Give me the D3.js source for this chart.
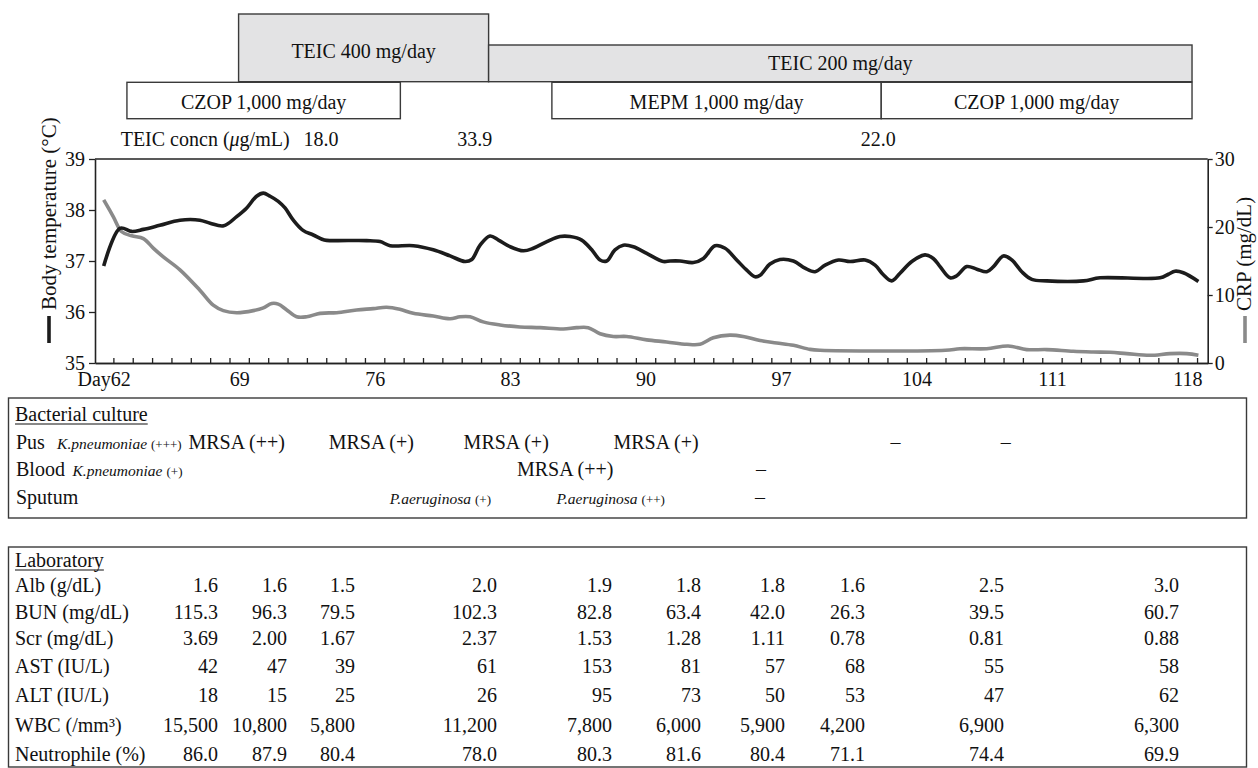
<!DOCTYPE html>
<html>
<head>
<meta charset="utf-8">
<script src="https://cdnjs.cloudflare.com/ajax/libs/d3/7.8.5/d3.min.js"></script>
<style>
  body { margin: 0; background: #fff; }
  svg text { font-family: "Liberation Serif", "Times New Roman", serif; fill: #111; }
</style>
</head>
<body>
<div id="chart"></div>
<script>
// ---- data ----
// body temperature (day, degC)
const tempDays = [62.0, 62.84, 63.45, 64.05, 64.9, 65.94, 66.97, 67.5, 68.2, 68.87, 69.39, 69.9, 70.25, 70.6, 71.02,
  71.37, 71.8, 72.3, 72.83, 73.4, 73.87, 75.59, 76.28, 76.8, 78.0, 79.03, 79.9, 80.67, 81.02, 81.45, 81.96, 82.4,
  83.0, 83.69, 84.2, 84.9, 85.58, 86.1, 86.7, 87.22, 87.65, 87.99, 88.42, 88.85, 89.37, 90.06, 90.92, 91.27, 91.78,
  92.47, 92.99, 93.59, 94.11, 94.71, 95.23, 95.66, 95.92, 96.43, 96.95, 97.64, 98.24, 98.76, 99.28, 99.97, 100.57,
  101.35, 101.86, 102.29, 102.72, 103.15, 103.76, 104.44, 104.87, 105.22, 105.74, 106.08, 106.6, 107.12, 107.63,
  107.98, 108.49, 108.93, 109.44, 109.96, 110.73, 112.63, 113.49, 116.59, 117.02, 117.36, 117.79, 118.57];
const tempValues = [36.9, 37.64, 37.58, 37.62, 37.7, 37.8, 37.8, 37.74, 37.69, 37.87, 38.04, 38.27, 38.33, 38.27, 38.17,
  38.04, 37.8, 37.6, 37.51, 37.41, 37.4, 37.4, 37.38, 37.3, 37.3, 37.22, 37.1, 36.99, 37.03, 37.31, 37.49, 37.41,
  37.28, 37.2, 37.25, 37.38, 37.48, 37.48, 37.41, 37.22, 37.02, 37.0, 37.22, 37.31, 37.28, 37.15, 36.99, 37.0, 37.0,
  36.97, 37.05, 37.3, 37.25, 37.02, 36.82, 36.69, 36.72, 36.94, 37.03, 37.0, 36.86, 36.79, 36.92, 37.02, 36.99,
  37.02, 36.92, 36.73, 36.61, 36.76, 36.99, 37.12, 37.05, 36.89, 36.67, 36.71, 36.89, 36.84, 36.79,
  36.89, 37.1, 37.02, 36.79, 36.64, 36.61, 36.61, 36.67, 36.67, 36.74, 36.8, 36.77, 36.6];

// CRP (day, mg/dL)
const crpDays = [62.0, 62.5, 62.93, 63.45, 64.05, 64.56, 65.08, 65.94, 66.97, 67.66, 68.18, 68.87, 69.73, 70.25, 70.68,
  71.02, 71.46, 71.97, 72.49, 73.18, 74.04, 75.07, 75.93, 76.62, 77.3, 78.0, 79.03, 79.9, 80.41, 80.93, 81.61, 82.48,
  83.51, 84.55, 85.75, 86.44, 87.04, 87.65, 88.33, 89.02, 90.06, 91.09, 92.13, 92.81, 93.5, 94.36, 95.05, 95.92,
  96.78, 97.64, 98.5, 99.02, 105.5, 106.25, 107.63, 108.74, 109.7, 110.73, 112.1, 113.14, 114.0, 114.87, 116.07,
  117.1, 117.97, 118.57];
const crpValues = [24.0, 21.5, 19.3, 18.7, 18.3, 16.9, 15.6, 13.7, 10.7, 8.5, 7.7, 7.4, 7.7, 8.1, 8.75,
  8.66, 7.8, 6.8, 6.8, 7.3, 7.4, 7.8, 8.0, 8.2, 7.9, 7.3, 6.9, 6.5, 6.8, 6.8, 6.05, 5.6,
  5.3, 5.2, 5.0, 5.2, 5.2, 4.3, 3.9, 3.9, 3.4, 3.1, 2.75, 2.75, 3.7, 4.1, 3.9, 3.3,
  2.95, 2.6, 2.0, 1.87, 1.87, 2.1, 2.1, 2.5, 1.97, 1.97, 1.72, 1.62, 1.57, 1.38, 1.13,
  1.38, 1.38, 1.13];

const dayTicks = [62, 69, 76, 83, 90, 97, 104, 111, 118];
const tempTicks = [35, 36, 37, 38, 39];
const crpTicks = [0, 10, 20, 30];

// drug regimens
const teicNames = ['TEIC 400 mg/day', 'TEIC 200 mg/day'];
const teicStart = [68.97, 81.89];
const teicEnd = [81.89, 118.24];
const abxNames = ['CZOP 1,000 mg/day', 'MEPM 1,000 mg/day', 'CZOP 1,000 mg/day'];
const abxStart = [63.2, 85.16, 102.18];
const abxEnd = [77.33, 102.18, 118.24];

// TEIC trough concentrations
const concDays = [73.23, 81.17, 102.02];
const concValues = ['18.0', '33.9', '22.0'];

// bacterial culture (day, organism, grade)
const cultureRows = ['Pus', 'Blood', 'Sputum'];
const pusDays = [62.81, 68.87, 75.83, 82.8, 90.54, 102.92, 108.61];
const pusOrganism = ['K.pneumoniae', 'MRSA', 'MRSA', 'MRSA', 'MRSA', '\u2013', '\u2013'];
const pusGrade = ['(+++)', '(++)', '(+)', '(+)', '(+)', '', ''];
const bloodDays = [63.23, 85.85, 95.96];
const bloodOrganism = ['K.pneumoniae', 'MRSA', '\u2013'];
const bloodGrade = ['(+)', '(++)', ''];
const sputumDays = [79.4, 88.2, 95.92];
const sputumOrganism = ['P.aeruginosa', 'P.aeruginosa', '\u2013'];
const sputumGrade = ['(+)', '(++)', ''];

// laboratory
const labNames = ['Alb (g/dL)', 'BUN (mg/dL)', 'Scr (mg/dL)', 'AST (IU/L)', 'ALT (IU/L)', 'WBC (/mm\u00b3)', 'Neutrophile (%)'];
const labDays = [67.91, 71.47, 74.99, 82.33, 88.27, 92.87, 97.21, 101.34, 108.53, 117.57];
const albVals = ['1.6', '1.6', '1.5', '2.0', '1.9', '1.8', '1.8', '1.6', '2.5', '3.0'];
const bunVals = ['115.3', '96.3', '79.5', '102.3', '82.8', '63.4', '42.0', '26.3', '39.5', '60.7'];
const scrVals = ['3.69', '2.00', '1.67', '2.37', '1.53', '1.28', '1.11', '0.78', '0.81', '0.88'];
const astVals = ['42', '47', '39', '61', '153', '81', '57', '68', '55', '58'];
const altVals = ['18', '15', '25', '26', '95', '73', '50', '53', '47', '62'];
const wbcVals = ['15,500', '10,800', '5,800', '11,200', '7,800', '6,000', '5,900', '4,200', '6,900', '6,300'];
const neutVals = ['86.0', '87.9', '80.4', '78.0', '80.3', '81.6', '80.4', '71.1', '74.4', '69.9'];

// ---- layout ----
const svgWidth = 1258;
const svgHeight = 768;
const plot = { left: 95, right: 1207.7, top: 159, bottom: 363 };

const svg = d3.select('#chart').append('svg')
  .attr('width', svgWidth)
  .attr('height', svgHeight);

const x = d3.scaleLinear().domain([61.55, 119.05]).range([plot.left, plot.right]);
const yTemp = d3.scaleLinear().domain([35, 39]).range([plot.bottom, plot.top]);
const yCrp = d3.scaleLinear().domain([0, 30]).range([plot.bottom, plot.top]);

// ---- drug bars ----
const teicGroup = svg.append('g');
teicGroup.selectAll('rect')
  .data(teicNames)
  .enter()
  .append('rect')
  .attr('x', (d, i) => x(teicStart[i]))
  .attr('y', (d, i) => i === 0 ? 14 : 45)
  .attr('width', (d, i) => x(teicEnd[i]) - x(teicStart[i]))
  .attr('height', (d, i) => i === 0 ? 67.7 : 36.7)
  .attr('fill', '#e3e3e4')
  .attr('stroke', '#3a3a3a')
  .attr('stroke-width', 1.4);
teicGroup.selectAll('text')
  .data(teicNames)
  .enter()
  .append('text')
  .attr('x', (d, i) => (x(teicStart[i]) + x(teicEnd[i])) / 2)
  .attr('y', (d, i) => i === 0 ? 58 : 70)
  .attr('text-anchor', 'middle')
  .attr('font-size', '20px')
  .text(d => d);

const abxGroup = svg.append('g');
abxGroup.selectAll('rect')
  .data(abxNames)
  .enter()
  .append('rect')
  .attr('x', (d, i) => x(abxStart[i]))
  .attr('y', 82.3)
  .attr('width', (d, i) => x(abxEnd[i]) - x(abxStart[i]))
  .attr('height', 36.4)
  .attr('fill', '#fff')
  .attr('stroke', '#3a3a3a')
  .attr('stroke-width', 1.4);
abxGroup.selectAll('text')
  .data(abxNames)
  .enter()
  .append('text')
  .attr('x', (d, i) => (x(abxStart[i]) + x(abxEnd[i])) / 2)
  .attr('y', 109)
  .attr('text-anchor', 'middle')
  .attr('font-size', '20px')
  .text(d => d);

// TEIC concentration row
const concLabel = svg.append('text')
  .attr('x', 120.7)
  .attr('y', 146)
  .attr('font-size', '20px');
concLabel.append('tspan').text('TEIC concn (');
concLabel.append('tspan').attr('font-style', 'italic').text('\u03bc');
concLabel.append('tspan').text('g/mL)');

svg.append('g').selectAll('text')
  .data(concValues)
  .enter()
  .append('text')
  .attr('x', (d, i) => x(concDays[i]))
  .attr('y', 146)
  .attr('text-anchor', 'middle')
  .attr('font-size', '20px')
  .text(d => d);

// ---- chart frame and axes ----
svg.append('line')
  .attr('x1', plot.left).attr('x2', plot.right)
  .attr('y1', plot.top).attr('y2', plot.top)
  .attr('stroke', '#222').attr('stroke-width', 1.6);

const leftAxis = svg.append('g')
  .attr('transform', `translate(${plot.left}, 0)`)
  .call(d3.axisLeft(yTemp).tickValues(tempTicks).tickSize(6).tickSizeOuter(0).tickPadding(4)
    .tickFormat(d3.format('d')));

const rightAxis = svg.append('g')
  .attr('transform', `translate(${plot.right}, 0)`)
  .call(d3.axisRight(yCrp).tickValues(crpTicks).tickSize(5).tickSizeOuter(0).tickPadding(2)
    .tickFormat(d3.format('d')));

// small day ticks pointing into the plot
const halfDays = d3.range(62.5, 119, 1);
const minorAxis = svg.append('g')
  .attr('transform', `translate(0, ${plot.bottom})`)
  .call(d3.axisTop(x).tickValues(halfDays).tickSize(5).tickSizeOuter(0).tickFormat(''));

const bottomAxis = svg.append('g')
  .attr('transform', `translate(0, ${plot.bottom})`)
  .call(d3.axisBottom(x).tickValues(dayTicks).tickSize(0).tickSizeOuter(0).tickPadding(9)
    .tickFormat(d => d === 62 ? 'Day62' : d));

[leftAxis, rightAxis, minorAxis, bottomAxis].forEach(ax => {
  ax.selectAll('path').attr('stroke', '#222').attr('stroke-width', 1.6);
  ax.selectAll('line').attr('stroke', '#222').attr('stroke-width', 1.3);
  ax.selectAll('text')
    .attr('font-family', '"Liberation Serif", serif')
    .attr('font-size', '20px')
    .attr('fill', '#111');
});

// ---- lines ----
const tempPoints = tempDays.map((d, i) => [d, tempValues[i]]);
const crpPoints = crpDays.map((d, i) => [d, crpValues[i]]);

const tempLine = d3.line()
  .x(d => x(d[0]))
  .y(d => yTemp(d[1]))
  .curve(d3.curveCatmullRom.alpha(0.5));

const crpLine = d3.line()
  .x(d => x(d[0]))
  .y(d => yCrp(d[1]))
  .curve(d3.curveCatmullRom.alpha(0.5));

svg.append('path')
  .datum(crpPoints)
  .attr('d', crpLine)
  .attr('fill', 'none')
  .attr('stroke', '#8a8a8a')
  .attr('stroke-width', 3.6)
  .attr('stroke-linejoin', 'round');

svg.append('path')
  .datum(tempPoints)
  .attr('d', tempLine)
  .attr('fill', 'none')
  .attr('stroke', '#1c1c1c')
  .attr('stroke-width', 3.6)
  .attr('stroke-linejoin', 'round');

// ---- axis titles with legend dashes ----
svg.append('line')
  .attr('x1', 49).attr('x2', 49).attr('y1', 316).attr('y2', 343)
  .attr('stroke', '#1c1c1c').attr('stroke-width', 3.6);
svg.append('text')
  .attr('transform', 'translate(56, 310) rotate(-90)')
  .attr('font-size', '21px')
  .text('Body temperature (\u00b0C)');

svg.append('line')
  .attr('x1', 1245).attr('x2', 1245).attr('y1', 316).attr('y2', 343)
  .attr('stroke', '#8a8a8a').attr('stroke-width', 3.6);
svg.append('text')
  .attr('transform', 'translate(1251, 311) rotate(-90)')
  .attr('font-size', '21px')
  .text('CRP (mg/dL)');

// ---- bacterial culture box ----
function underlined(g, label, tx, ty) {
  const t = g.append('text')
    .attr('x', tx).attr('y', ty)
    .attr('font-size', '20px')
    .text(label);
  const len = t.node().getComputedTextLength();
  g.append('line')
    .attr('x1', tx).attr('x2', tx + len)
    .attr('y1', ty + 3).attr('y2', ty + 3)
    .attr('stroke', '#111').attr('stroke-width', 1.2);
}

const culture = svg.append('g');
culture.append('rect')
  .attr('x', 8.5).attr('y', 398)
  .attr('width', 1238).attr('height', 120)
  .attr('fill', 'none')
  .attr('stroke', '#3a3a3a')
  .attr('stroke-width', 1.4);
underlined(culture, 'Bacterial culture', 15, 421);

const cultureRowY = [449, 476, 504];
const cultureData = [
  [pusDays, pusOrganism, pusGrade],
  [bloodDays, bloodOrganism, bloodGrade],
  [sputumDays, sputumOrganism, sputumGrade]
];
cultureRows.forEach((name, r) => {
  culture.append('text')
    .attr('x', 16).attr('y', cultureRowY[r])
    .attr('font-size', '20px')
    .text(name);
  const [days, orgs, grades] = cultureData[r];
  orgs.forEach((org, i) => {
    const t = culture.append('text')
      .attr('x', x(days[i]))
      .attr('y', cultureRowY[r])
      .attr('text-anchor', 'middle')
      .attr('font-size', '20px');
    if (org.indexOf('.') > 0) {
      t.append('tspan').attr('font-style', 'italic').attr('font-size', '15.5px').text(org);
      t.append('tspan').attr('font-size', '13px').attr('dx', 4).text(grades[i]);
    } else if (grades[i]) {
      t.text(org + ' ' + grades[i]);
    } else {
      t.text(org);
    }
  });
});

// ---- laboratory box ----
const lab = svg.append('g');
lab.append('rect')
  .attr('x', 8.5).attr('y', 547)
  .attr('width', 1238).attr('height', 220)
  .attr('fill', 'none')
  .attr('stroke', '#3a3a3a')
  .attr('stroke-width', 1.4);
underlined(lab, 'Laboratory', 15, 567);

const labRowY = [592, 619, 645, 673, 702, 732, 761];
const labRows = [albVals, bunVals, scrVals, astVals, altVals, wbcVals, neutVals];
labNames.forEach((name, r) => {
  lab.append('text')
    .attr('x', 15).attr('y', labRowY[r])
    .attr('font-size', '20px')
    .text(name);
  lab.append('g').selectAll('text')
    .data(labRows[r])
    .enter()
    .append('text')
    .attr('x', (d, i) => x(labDays[i]))
    .attr('y', labRowY[r])
    .attr('text-anchor', 'end')
    .attr('font-size', '20px')
    .text(d => d);
});
</script>
</body>
</html>
